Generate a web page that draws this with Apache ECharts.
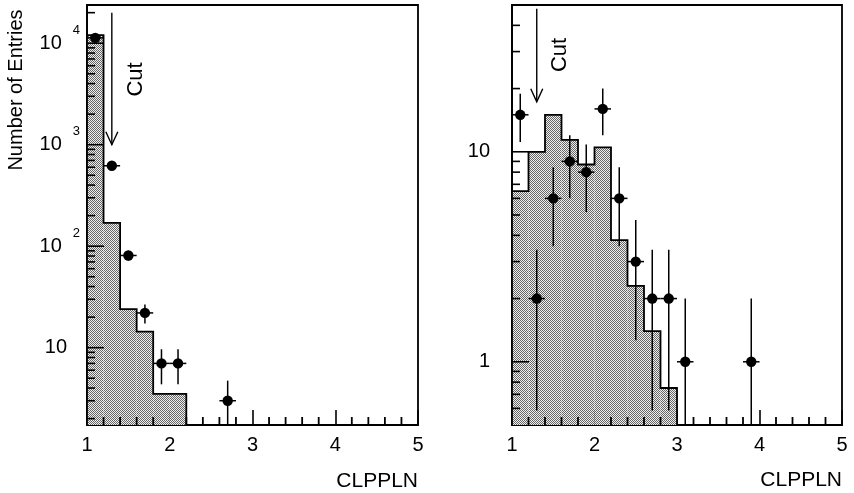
<!DOCTYPE html>
<html>
<head>
<meta charset="utf-8">
<script src="https://cdn.jsdelivr.net/npm/echarts@6/dist/echarts.min.js"></script>
<style>
  html, body { margin: 0; padding: 0; background: #fff; }
  #chart { width: 854px; height: 493px; }
</style>
</head>
<body>
<div id="chart"></div>
<script>
// ---- histogram binning (CLPPLN) ----
const binStart = 1.0;
const binWidth = 0.2;

// left panel: full sample
const leftHist = [12000, 170, 24, 14.4, 3.5, 3.5];
const leftDataX = [1.1, 1.3, 1.5, 1.7, 1.9, 2.1, 2.7];
const leftDataY = [11300, 620, 81, 22, 7, 7, 3];
const leftYRange = [1.73, 23800];
const leftMajorY = [10, 100, 1000, 10000];
const leftMinorY = [2, 3, 4, 5, 6, 7, 8, 9,
                    20, 30, 40, 50, 60, 70, 80, 90,
                    200, 300, 400, 500, 600, 700, 800, 900,
                    2000, 3000, 4000, 5000, 6000, 7000, 8000, 9000,
                    20000];
const leftCut = [1.3, 20000, 1000];
const leftCutText = [1.59, 4400];

// right panel: after cut
const rightHist = [6.5, 10, 15, 11.4, 8.7, 10.5, 3.8, 2.3, 1.4, 0.75];
const rightDataX = [1.1, 1.3, 1.5, 1.7, 1.9, 2.1, 2.3, 2.5, 2.7, 2.9, 3.1, 3.9];
const rightDataY = [15, 2, 6, 9, 8, 16, 6, 3, 2, 2, 1, 1];
const rightYRange = [0.5, 50];
const rightMajorY = [1, 10];
const rightMinorY = [0.6, 0.7, 0.8, 0.9, 2, 3, 4, 5, 6, 7, 8, 9, 20, 30, 40];
const rightCut = [1.3, 48, 17.3];
const rightCutText = [1.58, 28.9];

const xRange = [1, 5];
const xTickStep = 1;
const xMinorTicks = [1.2, 1.4, 1.6, 1.8, 2.2, 2.4, 2.6, 2.8, 3.2, 3.4, 3.6, 3.8,
                     4.2, 4.4, 4.6, 4.8];
const xAxisTitle = 'CLPPLN';
const yAxisTitle = 'Number of Entries';

const FONT = '"Liberation Sans", Arial, Helvetica, sans-serif';

// stippled grey fill for the histogram
const stipple = document.createElement('canvas');
stipple.width = 2; stipple.height = 2;
(function () {
  const g = stipple.getContext('2d');
  g.fillStyle = '#efefef'; g.fillRect(0, 0, 2, 2);
  g.fillStyle = '#666666'; g.fillRect(0, 0, 1, 1); g.fillRect(1, 1, 1, 1);
})();
const stippleFill = { image: stipple, repeat: 'repeat' };

// stippled histogram, data points and cut arrow of one panel
function panelSeries(idx, hist, xs, ys, yRange, cut, cutText) {
  return {
    type: 'custom', xAxisIndex: idx, yAxisIndex: idx, z: 3,
    data: [[0, 0]],
    renderItem(params, api) {
      const P = (x, y) => api.coord([x, y]);
      const base = P(xRange[0], yRange[0]);
      const children = [];
      const outline = [];
      hist.forEach((v, i) => {
        const x0 = binStart + i * binWidth, x1 = x0 + binWidth;
        const a = P(x0, v), b = P(x1, v);
        children.push({ type: 'rect', shape: { x: a[0], y: a[1], width: b[0] - a[0], height: base[1] - a[1] },
                        style: { fill: stippleFill } });
        if (i === 0) outline.push([a[0], base[1]]);
        outline.push([a[0], a[1]], [b[0], b[1]]);
        if (i === hist.length - 1) outline.push([b[0], base[1]]);
      });
      children.push({ type: 'polyline', shape: { points: outline },
                      style: { stroke: '#000', lineWidth: 1.8, fill: null } });
      // data points with Poisson errors and bin-width horizontal bars
      xs.forEach((x, i) => {
        const y = ys[i];
        const err = Math.sqrt(y);
        const lo = Math.max(y - err, yRange[0]);
        const hi = Math.min(y + err, yRange[1]);
        const c = P(x, y), pl = P(x, lo), ph = P(x, hi);
        const xl = P(x - binWidth / 2, y), xr = P(x + binWidth / 2, y);
        children.push(
          { type: 'line', shape: { x1: c[0], y1: ph[1], x2: c[0], y2: pl[1] }, style: { stroke: '#000', lineWidth: 1.5 } },
          { type: 'line', shape: { x1: xl[0], y1: c[1], x2: xr[0], y2: c[1] }, style: { stroke: '#000', lineWidth: 1.5 } },
          { type: 'circle', shape: { cx: c[0], cy: c[1], r: 5.2 }, style: { fill: '#000' } }
        );
      });
      // cut arrow and label
      const top = P(cut[0], cut[1]), tip = P(cut[0], cut[2]), t = P(cutText[0], cutText[1]);
      children.push(
        { type: 'line', shape: { x1: top[0], y1: top[1], x2: tip[0], y2: tip[1] }, style: { stroke: '#000', lineWidth: 1.4 } },
        { type: 'polyline', shape: { points: [[tip[0] - 6, tip[1] - 13], [tip[0], tip[1]], [tip[0] + 6, tip[1] - 13]] },
          style: { stroke: '#000', lineWidth: 1.4, fill: null } },
        { type: 'text', x: t[0], y: t[1], rotation: Math.PI / 2,
          style: { text: 'Cut', font: '22px ' + FONT, fill: '#000',
                   align: 'center', verticalAlign: 'middle', textAlign: 'center', textVerticalAlign: 'middle' } }
      );
      return { type: 'group', children };
    }
  };
}

// inside ticks of one panel: log decades (long), log minors and x minors (short)
function tickSeries(idx, yRange, majorY, minorY) {
  return {
    type: 'custom', xAxisIndex: idx, yAxisIndex: idx, z: 10, silent: true,
    data: [[0, 0]],
    renderItem(params, api) {
      const P = (x, y) => api.coord([x, y]);
      const children = [];
      const tick = (v, len) => {
        const p = P(xRange[0], v);
        children.push({ type: 'line', shape: { x1: p[0], y1: p[1], x2: p[0] + len, y2: p[1] },
                        style: { stroke: '#000', lineWidth: 1.6 } });
      };
      majorY.forEach(v => tick(v, 17));
      minorY.forEach(v => tick(v, 8));
      xMinorTicks.forEach(v => {
        const p = P(v, yRange[0]);
        children.push({ type: 'line', shape: { x1: p[0], y1: p[1], x2: p[0], y2: p[1] - 8 },
                        style: { stroke: '#000', lineWidth: 1.8 } });
      });
      return { type: 'group', children };
    }
  };
}

function xAxisFor(idx) {
  return {
    type: 'value', gridIndex: idx, min: xRange[0], max: xRange[1], interval: xTickStep,
    axisLine: { show: true, onZero: false, lineStyle: { color: '#000', width: 1.8 } },
    axisTick: { show: true, inside: true, length: 15, lineStyle: { color: '#000', width: 1.6 } },
    axisLabel: { color: '#000', fontSize: 20, fontFamily: FONT, margin: 10 },
    splitLine: { show: false }
  };
}

const supRich = {
  b: { fontSize: 20, fontFamily: FONT, color: '#000' },
  sup: { fontSize: 13, fontFamily: FONT, color: '#000', padding: [0, 0, 26, 11] },
  sp: { width: 13 }
};

const option = {
  animation: false,
  backgroundColor: '#fff',
  grid: [
    { left: 87, top: 5, width: 331, height: 420, show: true, borderColor: '#000', borderWidth: 1.8 },
    { left: 512, top: 5, width: 330, height: 420, show: true, borderColor: '#000', borderWidth: 1.8 }
  ],
  xAxis: [xAxisFor(0), xAxisFor(1)],
  yAxis: [
    {
      type: 'log', logBase: 10, gridIndex: 0, min: leftYRange[0], max: leftYRange[1],
      axisLine: { show: true, lineStyle: { color: '#000', width: 1.8 } },
      axisTick: { show: false },
      axisLabel: {
        showMinLabel: false, showMaxLabel: false, margin: 7,
        formatter: v => {
          const e = Math.round(Math.log10(v));
          return e === 1 ? '{b|10}{sp|}' : '{b|10}{sup|' + e + '}';
        },
        rich: supRich
      },
      splitLine: { show: false }
    },
    {
      type: 'log', logBase: 10, gridIndex: 1, min: rightYRange[0], max: rightYRange[1],
      axisLine: { show: true, lineStyle: { color: '#000', width: 1.8 } },
      axisTick: { show: false },
      axisLabel: {
        showMinLabel: false, showMaxLabel: false, margin: 22,
        color: '#000', fontSize: 20, fontFamily: FONT,
        formatter: v => String(Math.round(v))
      },
      splitLine: { show: false }
    }
  ],
  graphic: [
    { type: 'text', x: 16, y: 90, rotation: Math.PI / 2,
      style: { text: yAxisTitle, font: '20px ' + FONT, fill: '#000',
               align: 'center', verticalAlign: 'middle', textAlign: 'center', textVerticalAlign: 'middle' } },
    { type: 'text', x: 418, y: 481,
      style: { text: xAxisTitle, font: '21px ' + FONT, fill: '#000',
               align: 'right', verticalAlign: 'middle', textAlign: 'right', textVerticalAlign: 'middle' } },
    { type: 'text', x: 842, y: 480,
      style: { text: xAxisTitle, font: '21px ' + FONT, fill: '#000',
               align: 'right', verticalAlign: 'middle', textAlign: 'right', textVerticalAlign: 'middle' } }
  ],
  series: [
    panelSeries(0, leftHist, leftDataX, leftDataY, leftYRange, leftCut, leftCutText),
    panelSeries(1, rightHist, rightDataX, rightDataY, rightYRange, rightCut, rightCutText),
    tickSeries(0, leftYRange, leftMajorY, leftMinorY),
    tickSeries(1, rightYRange, rightMajorY, rightMinorY)
  ]
};

const chart = echarts.init(document.getElementById('chart'), null, { renderer: 'canvas' });
chart.setOption(option);
</script>
</body>
</html>
